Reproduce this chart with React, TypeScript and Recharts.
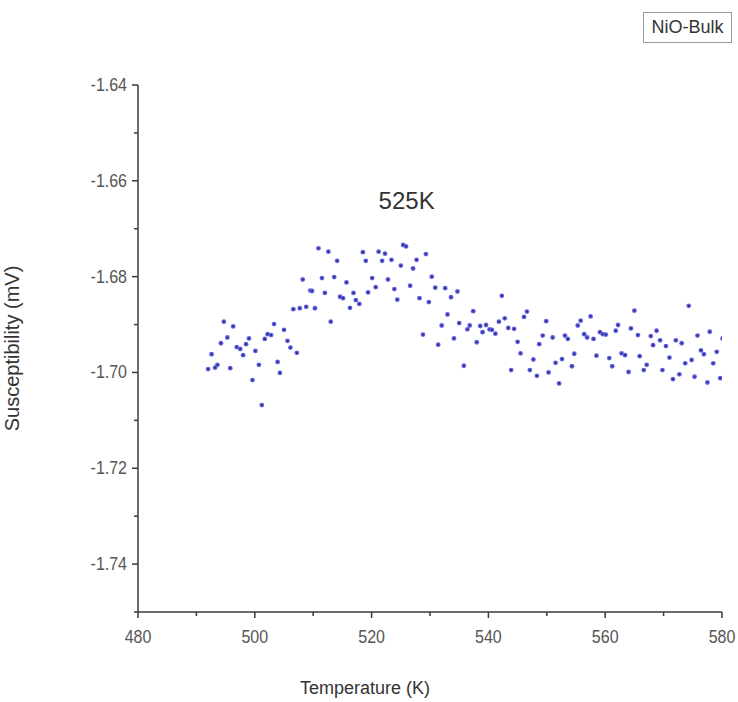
import React from 'react';
import { ScatterChart, Scatter, XAxis, YAxis, ReferenceDot } from 'recharts';

const temperature: number[] = [
  492.0, 492.6, 493.2, 493.6, 494.2, 494.7, 495.3, 495.8, 496.3, 496.9,
  497.5, 498.0, 498.5, 499.0, 499.6, 500.1, 500.7, 501.2, 501.7, 502.2,
  502.8, 503.3, 503.9, 504.3, 505.0, 505.6, 506.1, 507.2, 506.6, 507.7,
  508.8, 508.2, 509.5, 509.8, 510.3, 510.9, 511.5, 512.0, 512.6, 513.0,
  513.6, 514.1, 514.6, 515.1, 515.7, 516.3, 516.9, 517.3, 517.9, 518.5,
  519.0, 519.4, 520.1, 520.7, 521.2, 521.8, 522.3, 522.8, 523.4, 523.9,
  524.4, 525.0, 525.4, 525.9, 526.6, 527.1, 527.7, 528.2, 528.8, 529.3,
  529.8, 530.3, 530.9, 531.4, 532.0, 532.6, 533.0, 533.6, 534.1, 534.7,
  535.0, 535.8, 536.4, 536.8, 537.4, 538.0, 538.6, 539.0, 539.6, 540.2,
  540.6, 541.2, 541.8, 542.3, 542.8, 543.4, 543.9, 544.4, 545.0, 545.5,
  546.1, 546.6, 547.1, 547.7, 548.3, 548.7, 549.3, 549.9, 550.3, 551.0,
  551.5, 552.1, 552.6, 553.1, 553.6, 554.3, 554.7, 555.3, 555.8, 556.4,
  556.9, 557.5, 558.0, 558.5, 559.1, 559.6, 560.1, 560.7, 561.2, 561.8,
  562.2, 562.8, 563.4, 564.0, 564.4, 565.0, 565.6, 565.9, 566.6, 567.1,
  567.8, 568.2, 568.8, 569.4, 569.8, 570.4, 571.0, 571.6, 572.1, 572.7,
  573.1, 573.7, 574.3, 574.8, 575.3, 575.8, 576.4, 576.9, 577.5, 577.9,
  578.5, 579.1, 579.7, 580.1,
];

const susceptibility: number[] = [
  -1.6993, -1.6962, -1.6990, -1.6984, -1.6939, -1.6894, -1.6927, -1.6991, -1.6904, -1.6947,
  -1.6951, -1.6964, -1.6941, -1.6929, -1.7016, -1.6955, -1.6984, -1.7068, -1.6930, -1.6920,
  -1.6922, -1.6899, -1.6978, -1.7001, -1.6911, -1.6934, -1.6948, -1.6959, -1.6868, -1.6866,
  -1.6863, -1.6806, -1.6829, -1.6830, -1.6866, -1.6741, -1.6803, -1.6834, -1.6748, -1.6894,
  -1.6801, -1.6767, -1.6842, -1.6845, -1.6812, -1.6865, -1.6834, -1.6849, -1.6857, -1.6749,
  -1.6767, -1.6833, -1.6803, -1.6822, -1.6748, -1.6767, -1.6752, -1.6806, -1.6765, -1.6826,
  -1.6848, -1.6777, -1.6734, -1.6737, -1.6819, -1.6783, -1.6765, -1.6845, -1.6921, -1.6753,
  -1.6853, -1.6800, -1.6823, -1.6942, -1.6902, -1.6824, -1.6879, -1.6843, -1.6929, -1.6831,
  -1.6897, -1.6986, -1.6910, -1.6902, -1.6872, -1.6937, -1.6903, -1.6916, -1.6901, -1.6910,
  -1.6911, -1.6919, -1.6894, -1.6840, -1.6887, -1.6907, -1.6995, -1.6909, -1.6936, -1.6960,
  -1.6884, -1.6873, -1.6995, -1.6973, -1.7007, -1.6941, -1.6923, -1.6893, -1.7000, -1.6927,
  -1.6980, -1.7023, -1.6972, -1.6923, -1.6930, -1.6987, -1.6961, -1.6902, -1.6892, -1.6920,
  -1.6927, -1.6883, -1.6930, -1.6965, -1.6916, -1.6920, -1.6921, -1.6970, -1.6987, -1.6913,
  -1.6901, -1.6960, -1.6964, -1.6999, -1.6908, -1.6871, -1.6922, -1.6966, -1.6995, -1.6984,
  -1.6924, -1.6943, -1.6913, -1.6933, -1.6995, -1.6945, -1.6969, -1.7014, -1.6933, -1.7004,
  -1.6939, -1.6981, -1.6861, -1.6974, -1.7009, -1.6923, -1.6954, -1.6962, -1.7021, -1.6915,
  -1.6981, -1.6957, -1.7012, -1.6929,
];

const xTicks: number[] = [480, 490, 500, 510, 520, 530, 540, 550, 560, 570, 580];
const yTicks: number[] = [-1.75, -1.74, -1.73, -1.72, -1.71, -1.70, -1.69, -1.68, -1.67, -1.66, -1.65, -1.64];

const seriesName = 'NiO-Bulk';
const peakLabel = '525K';
const peakPoint = { x: 526, y: -1.664 };

const data = temperature.map((t, i) => ({ t, s: susceptibility[i] }));

const AXIS = '#3a3a3a';
const TICK_TEXT = '#555555';
const FONT = 'Arial, "Liberation Sans", Helvetica, sans-serif';

const XTick = (props: any) => {
  const { x, y, payload } = props;
  const v = payload.value as number;
  const major = Math.round(v) % 20 === 0;
  return (
    <g>
      <line x1={x} y1={y} x2={x} y2={y + (major ? 6 : 4)} stroke={AXIS} strokeWidth={1.5} />
      {major && (
        <text
          transform={`translate(${x},${y + 31}) scale(1,1.2)`}
          textAnchor="middle"
          fontSize={16}
          fill={TICK_TEXT}
          fontFamily={FONT}
        >
          {String(v)}
        </text>
      )}
    </g>
  );
};

const YTick = (props: any) => {
  const { x, y, payload } = props;
  const v = payload.value as number;
  const major = Math.abs(Math.round(v * 100)) % 2 === 0;
  return (
    <g>
      <line x1={x} y1={y} x2={x - (major ? 6 : 4)} y2={y} stroke={AXIS} strokeWidth={1.5} />
      {major && (
        <text
          transform={`translate(${x - 11},${y + 6}) scale(1,1.2)`}
          textAnchor="end"
          fontSize={16}
          fill={TICK_TEXT}
          fontFamily={FONT}
        >
          {v.toFixed(2)}
        </text>
      )}
    </g>
  );
};

const Dot = (props: any) => {
  const { cx, cy } = props;
  if (cx == null || cy == null) return null;
  return (
    <g>
      <circle cx={cx} cy={cy} r={2.4} fill="#6262e8" />
      <circle cx={cx} cy={cy} r={1.1} fill="#2c2c78" />
    </g>
  );
};

export default function App() {
  return (
    <div style={{ position: 'absolute', left: 0, top: 0, width: 738, height: 702, background: '#fff', fontFamily: FONT }}>
      <ScatterChart width={738} height={702} margin={{ top: 85, right: 16, left: 0, bottom: 0 }}>
        <XAxis
          type="number"
          dataKey="t"
          domain={[480, 580]}
          ticks={xTicks}
          interval={0}
          tick={<XTick />}
          tickLine={false}
          tickSize={0}
          tickMargin={0}
          height={90}
          axisLine={{ stroke: AXIS, strokeWidth: 1.5 }}
          allowDataOverflow
          label={{ value: 'Temperature (K)', position: 'insideBottom', offset: 8, dx: -65, fontSize: 18, fill: '#333', fontFamily: FONT }}
        />
        <YAxis
          type="number"
          dataKey="s"
          domain={[-1.75, -1.64]}
          ticks={yTicks}
          interval={0}
          tick={<YTick />}
          tickLine={false}
          tickSize={0}
          tickMargin={0}
          width={138}
          axisLine={{ stroke: AXIS, strokeWidth: 1.5 }}
          allowDataOverflow
          label={{ value: 'Susceptibility (mV)', angle: -90, position: 'insideLeft', offset: 12, fontSize: 20, fill: '#333', fontFamily: FONT, style: { textAnchor: 'middle' } }}
        />
        <Scatter data={data} shape={<Dot />} isAnimationActive={false} name={seriesName} />
        <ReferenceDot
          x={peakPoint.x}
          y={peakPoint.y}
          r={0}
          fill="none"
          stroke="none"
          label={{ value: peakLabel, position: 'center', fontSize: 24, fill: '#333', fontFamily: FONT }}
        />
      </ScatterChart>
      <div
        style={{
          position: 'absolute',
          left: 643,
          top: 12,
          width: 87,
          height: 29,
          border: '1.5px solid #9a9a9a',
          fontSize: 18,
          color: '#333',
          display: 'flex',
          alignItems: 'center',
          justifyContent: 'center',
          fontFamily: FONT,
        }}
      >
        {seriesName}
      </div>
    </div>
  );
}
